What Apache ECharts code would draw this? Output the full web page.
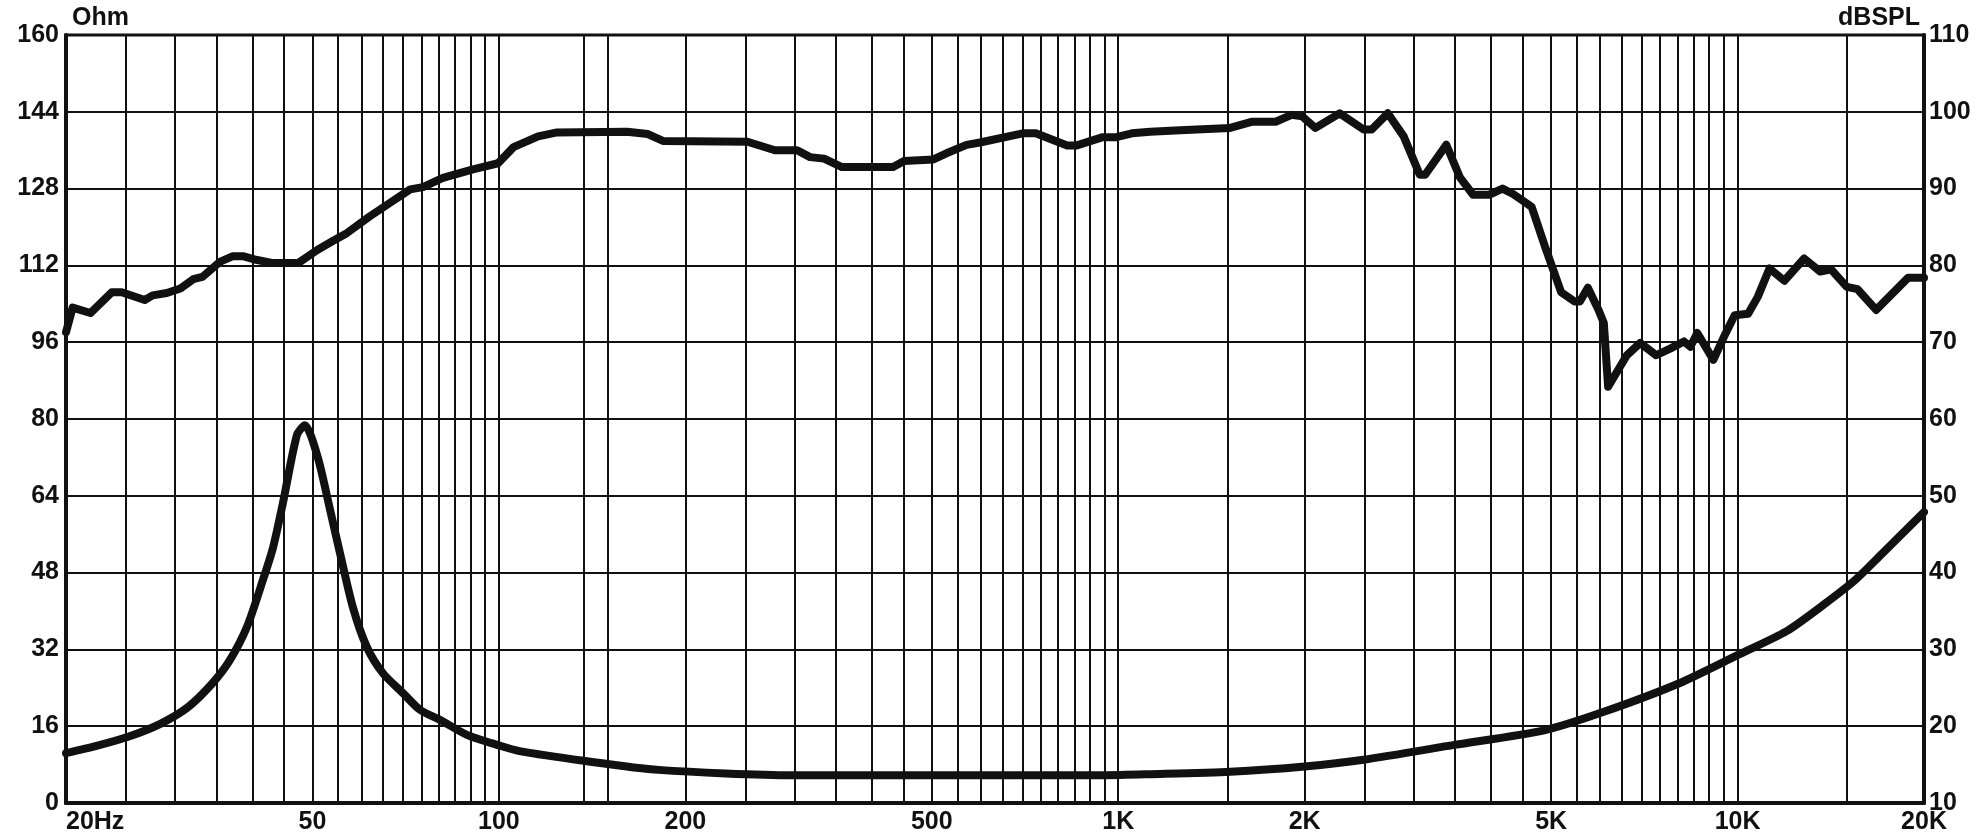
<!DOCTYPE html>
<html>
<head>
<meta charset="utf-8">
<script src="https://cdn.jsdelivr.net/npm/echarts@6/dist/echarts.min.js"></script>
<style>
  html, body { margin: 0; padding: 0; background: #fff; }
  #main { width: 1987px; height: 837px; }
</style>
</head>
<body>
<div id="main"></div>
<script>
// x axis: frequency (Hz), log scale
var gridFreqs = [20, 25, 30, 35, 40, 45, 50, 55, 60, 65, 70, 75, 80, 85, 90, 95, 100,
  137, 150, 200, 250, 300, 350, 400, 450, 500, 550, 600, 650, 700, 750, 800, 850, 900, 950, 1000,
  1500, 2000, 2500, 3000, 3500, 4000, 4500, 5000, 5500, 6000, 6500, 7000, 7500, 8000, 8500,
  9000, 9500, 10000, 15000, 20000];
var labelFreqs = [20, 50, 100, 200, 500, 1000, 2000, 5000, 10000, 20000];
var labelTexts = ['20Hz', '50', '100', '200', '500', '1K', '2K', '5K', '10K', '20K'];

// SPL response (right axis, dBSPL)
var splFreq = [20, 20.5, 21.9, 23.7, 24.6, 26.8, 27.6, 29.1, 30.6, 32.1, 33.2, 35.5, 37.2, 38.6,
  40.7, 43.2, 47.4, 50.9, 54, 56.8, 61.9, 66, 71.9, 75.4, 81.2, 90.8, 99.7, 105.6, 115.7, 123.6,
  161, 174, 184, 252, 279, 303, 318, 335, 358, 433, 451, 503, 528, 569, 598, 701, 736, 827, 855,
  944, 993, 1052, 1126, 1259, 1516, 1641, 1795, 1905, 1982, 2082, 2278, 2490, 2566, 2724, 2890,
  3068, 3130, 3386, 3560, 3740, 3970, 4174, 4340, 4562, 4652, 4890, 5190, 5456, 5564, 5732, 5964,
  6082, 6180, 6626, 6962, 7388, 7798, 8194, 8390, 8610, 9140, 9506, 9892, 10400, 10780, 11260,
  11900, 12810, 13600, 14150, 15010, 15620, 16740, 18860, 20000];
var splDb = [71.3, 74.5, 73.8, 76.5, 76.5, 75.5, 76.1, 76.4, 77, 78.2, 78.5, 80.5, 81.2, 81.2,
  80.7, 80.3, 80.3, 82, 83.2, 84.2, 86.4, 87.9, 89.9, 90.2, 91.4, 92.5, 93.3, 95.4, 96.8, 97.3,
  97.4, 97.1, 96.2, 96.1, 95, 95, 94.1, 93.9, 92.8, 92.8, 93.6, 93.8, 94.6, 95.7, 96, 97.2, 97.2, 95.6, 95.6,
  96.7, 96.7, 97.2, 97.4, 97.6, 97.9, 98.7, 98.7, 99.6, 99.4, 97.9, 99.8, 97.7, 97.7, 99.8, 96.8,
  91.8, 91.8, 95.7, 91.5, 89.2, 89.2, 90, 89.3, 88.1, 87.6, 82.4, 76.5, 75.3, 75.3, 77.1, 74.2,
  72.5, 64.2, 68.3, 69.9, 68.3, 69.2, 70.1, 69.4, 71.2, 67.7, 70.7, 73.5, 73.7, 75.9, 79.6,
  78, 80.9, 79.2, 79.5, 77.2, 76.9, 74.2, 78.4, 78.4];

// impedance (left axis, Ohm)
var impFreq = [20, 22.4, 25.2, 28.4, 31.5, 34.5, 36.8, 39.2, 41.6, 43.2, 44.8, 47.2, 48.6, 51,
  53.4, 55.4, 58.1, 61.2, 65, 70, 74.6, 80.4, 88.8, 100, 108, 137, 181, 298, 952, 1126, 1516,
  2000, 2490, 3490, 4890, 6082, 8034, 10000, 12000, 13800, 15500, 17100, 20000];
var impOhm = [10.4, 11.9, 13.8, 16.5, 20, 25, 29.8, 36.7, 46.5, 53.3, 62.5, 76.7, 78.7, 72,
  61, 52, 40.8, 32.5, 27, 22.9, 19.4, 17.3, 14.2, 12, 10.8, 8.8, 6.9, 5.8, 5.8, 6, 6.5,
  7.6, 9, 12.1, 15.2, 19, 24.9, 30.8, 35.8, 41.4, 46.5, 51.9, 60.6];

var ohmTicks = [0, 16, 32, 48, 64, 80, 96, 112, 128, 144, 160];
var dbTicks = [10, 20, 30, 40, 50, 60, 70, 80, 90, 100, 110];

function pairs(xs, ys) {
    return xs.map(function (x, i) { return [x, ys[i]]; });
}

var ink = '#111';
var font = "'Liberation Sans', Arial, sans-serif";
var labelStyle = { color: ink, fontSize: 25, fontWeight: 'bold', fontFamily: font };

var chart = echarts.init(document.getElementById('main'));
chart.setOption({
    animation: false,
    backgroundColor: '#fff',
    grid: { left: 66, right: 63, top: 35, bottom: 34, show: true, borderColor: ink, borderWidth: 3 },
    xAxis: {
        type: 'log',
        logBase: 10,
        min: 20,
        max: 20000,
        axisLine: { show: true, lineStyle: { color: ink, width: 4 } },
        axisTick: { show: false, customValues: gridFreqs },
        splitLine: { show: true, lineStyle: { color: ink, width: 2 } },
        minorSplitLine: { show: false },
        axisLabel: Object.assign({
            margin: 7,
            customValues: labelFreqs,
            alignMinLabel: 'left',
            formatter: function (v) {
                var i = labelFreqs.indexOf(Math.round(v));
                return i >= 0 ? labelTexts[i] : '';
            }
        }, labelStyle)
    },
    yAxis: [{
        type: 'value',
        min: ohmTicks[0],
        max: ohmTicks[ohmTicks.length - 1],
        interval: 16,
        name: 'Ohm',
        nameLocation: 'end',
        nameGap: 4,
        nameTextStyle: Object.assign({ align: 'left', padding: [0, 0, 0, 6] }, labelStyle),
        axisLine: { show: true, lineStyle: { color: ink, width: 4 } },
        axisTick: { show: false },
        splitLine: { show: true, lineStyle: { color: ink, width: 2 } },
        axisLabel: Object.assign({ margin: 7 }, labelStyle)
    }, {
        type: 'value',
        position: 'right',
        min: dbTicks[0],
        max: dbTicks[dbTicks.length - 1],
        interval: 10,
        name: 'dBSPL',
        nameLocation: 'end',
        nameGap: 4,
        nameTextStyle: Object.assign({ align: 'right', padding: [0, 4, 0, 0] }, labelStyle),
        axisLine: { show: true, lineStyle: { color: ink, width: 4 } },
        axisTick: { show: false },
        splitLine: { show: false },
        axisLabel: Object.assign({ margin: 5 }, labelStyle)
    }],
    series: [{
        name: 'SPL',
        type: 'line',
        yAxisIndex: 1,
        data: pairs(splFreq, splDb),
        showSymbol: false,
        smooth: false,
        lineStyle: { color: ink, width: 8, join: 'round', cap: 'round' },
        z: 5
    }, {
        name: 'Impedance',
        type: 'line',
        yAxisIndex: 0,
        data: pairs(impFreq, impOhm),
        showSymbol: false,
        smooth: 0.25,
        lineStyle: { color: ink, width: 8, join: 'round', cap: 'round' },
        z: 5
    }]
});
</script>
</body>
</html>
